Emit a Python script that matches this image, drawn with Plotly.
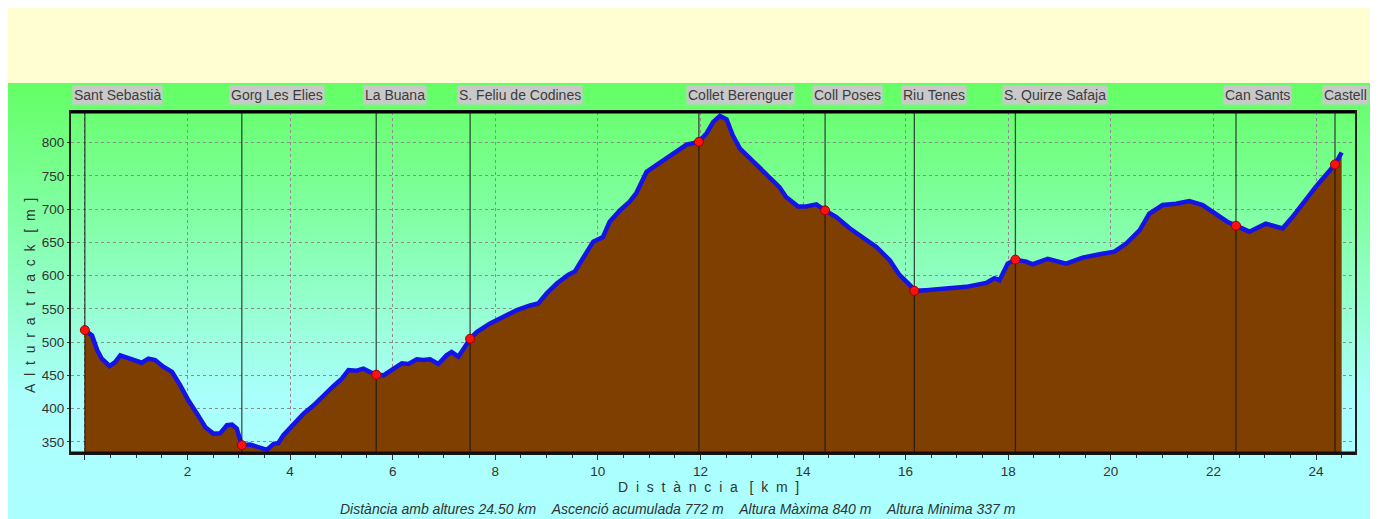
import base64, struct, zlib
import plotly.graph_objects as go

# ---------------- data ----------------
dist_km = [0.00, 0.14, 0.24, 0.33, 0.48, 0.59, 0.69, 0.82, 0.98, 1.11, 1.24, 1.37, 1.53, 1.70, 1.86,
           2.02, 2.19, 2.35, 2.51, 2.64, 2.77, 2.87, 2.96, 3.03, 3.06, 3.22, 3.38, 3.55, 3.68, 3.77,
           3.87, 4.07, 4.26, 4.46, 4.65, 4.85, 5.01, 5.14, 5.30, 5.43, 5.56, 5.68, 5.82, 5.98, 6.18,
           6.31, 6.47, 6.60, 6.73, 6.89, 7.05, 7.15, 7.28, 7.41, 7.51, 7.64, 7.90, 8.16, 8.42, 8.68,
           8.84, 9.00, 9.20, 9.42, 9.55, 9.71, 9.91, 10.10, 10.23, 10.43, 10.62, 10.75, 10.95, 11.14,
           11.34, 11.53, 11.73, 11.97, 12.12, 12.25, 12.38, 12.51, 12.63, 12.77, 13.02, 13.30, 13.54,
           13.67, 13.90, 14.06, 14.26, 14.43, 14.65, 14.91, 15.17, 15.43, 15.69, 15.88, 16.08, 16.19,
           16.40, 16.79, 17.18, 17.57, 17.73, 17.83, 17.99, 18.14, 18.35, 18.48, 18.77, 19.13, 19.45,
           19.78, 20.07, 20.30, 20.56, 20.75, 21.01, 21.27, 21.53, 21.79, 22.05, 22.27, 22.44, 22.70,
           23.02, 23.35, 23.54, 23.73, 23.99, 24.20, 24.37, 24.50]
alt_m = [518, 510, 488, 475, 464, 470, 480, 477, 473, 469, 475, 473, 463, 455, 435,
         412, 392, 372, 362, 363, 375, 376, 370, 355, 345, 346, 342, 338, 347, 348,
         360, 377, 392, 405, 420, 434, 445, 458, 457, 460, 455, 451, 450, 458, 468,
         467, 474, 473, 474, 467, 480, 485, 478, 493, 505, 515, 528, 538, 548, 555,
         558, 573, 588, 601, 606, 626, 651, 658, 681, 698, 711, 724, 756, 766,
         776, 786, 797, 801, 814, 831, 840, 835, 811, 791, 772, 749, 733,
         718, 704, 704, 707, 698, 688, 671, 658, 643, 623, 601, 586, 577,
         578, 581, 583, 589, 596, 593, 618, 624, 621, 617, 625, 618, 627,
         632, 636, 648, 668, 693, 706, 708, 712, 706, 693, 681, 675, 666,
         678, 671, 688, 708, 733, 752, 767, 785]

wp_names = ["Sant Sebastià", "Gorg Les Elies", "La Buana", "S. Feliu de Codines", "Collet Berenguer",
            "Coll Poses", "Riu Tenes", "S. Quirze Safaja", "Can Sants", "Castell"]
wp_km = [0.00, 3.06, 5.68, 7.51, 11.97, 14.43, 16.17, 18.14, 22.44, 24.37]
wp_alt = [518, 345, 451, 505, 801, 698, 577, 624, 675, 767]

x_ticks = [0, 2, 4, 6, 8, 10, 12, 14, 16, 18, 20, 22, 24]
x_tick_text = [""] + [str(v) for v in x_ticks[1:]]
y_ticks = [350, 400, 450, 500, 550, 600, 650, 700, 750, 800]

footer_parts = ["Distància amb altures 24.50 km", "Ascenció acumulada 772 m",
                "Altura Màxima 840 m", "Altura Minima 337 m"]

# ---------------- geometry / style ----------------
OFF = 8                                   # page body margin of the html page
W, H = 1381 - OFF, 519 - OFF
PL, PR, PT, PB = 71, 1355, 112, 453       # plot area, in page pixels
X_RANGE = [-0.27, 24.76]
Y_RANGE = [333.2, 845.9]
FONT = "Liberation Sans, Arial, sans-serif"
NB = "\u00a0"


def px_x(X):
    return (X - PL) / (PR - PL)


def px_y(Y):
    return (PB - Y) / (PB - PT)


def spaced(s):
    words = s.split(" ")
    return (NB * 3).join((NB * 2).join(list(w)) for w in words)


def gradient_png(stops, height):
    rows = []
    for i in range(height):
        t = i / (height - 1)
        for (t0, c0), (t1, c1) in zip(stops[:-1], stops[1:]):
            if t0 <= t <= t1:
                f = 0 if t1 == t0 else (t - t0) / (t1 - t0)
                c = [round(a + (b - a) * f) for a, b in zip(c0, c1)]
                break
        rows.append(b"\x00" + bytes(c))
    raw = b"".join(rows)

    def chunk(tag, data):
        return struct.pack(">I", len(data)) + tag + data + struct.pack(">I", zlib.crc32(tag + data) & 0xffffffff)

    png = b"\x89PNG\r\n\x1a\n" + chunk(b"IHDR", struct.pack(">IIBBBBB", 1, height, 8, 2, 0, 0, 0)) \
        + chunk(b"IDAT", zlib.compress(raw)) + chunk(b"IEND", b"")
    return "data:image/png;base64," + base64.b64encode(png).decode()


BG_TOP, BG_BOT = 83, 519
grad_src = gradient_png([(0.0, (100, 255, 100)), (0.72, (170, 255, 252)), (1.0, (172, 255, 255))],
                        BG_BOT - BG_TOP)

fig = go.Figure()

# profile
fig.add_trace(go.Scatter(x=dist_km, y=alt_m, mode="lines", fill="tozeroy",
                         fillcolor="#7F3F00", line=dict(color="#1414E6", width=4.5),
                         hoverinfo="skip", showlegend=False))

# waypoint vertical lines
vx, vy = [], []
for k in wp_km:
    vx += [k, k, None]
    vy += [Y_RANGE[0], Y_RANGE[1], None]
fig.add_trace(go.Scatter(x=vx, y=vy, mode="lines", line=dict(color="rgba(20,20,20,0.75)", width=1.3),
                         hoverinfo="skip", showlegend=False))

# red dots on the profile
fig.add_trace(go.Scatter(x=wp_km, y=wp_alt, mode="markers",
                         marker=dict(color="#FF1010", size=9, line=dict(color="#9A0000", width=1)),
                         showlegend=False))

# red triangles above frame
tri_y = Y_RANGE[1] + (PT - 107) * (Y_RANGE[1] - Y_RANGE[0]) / (PB - PT)
fig.add_trace(go.Scatter(x=wp_km, y=[tri_y] * len(wp_km), mode="markers", cliponaxis=False,
                         marker=dict(symbol="triangle-down", color="#E00000", size=12,
                                     line=dict(color="#6A0000", width=1)),
                         showlegend=False))

annotations = []
for name, k in zip(wp_names, wp_km):
    annotations.append(dict(x=k, xref="x", y=px_y(95), yref="paper", text=name, showarrow=False,
                            xanchor="left", yanchor="middle", xshift=-13, bgcolor="#C9C9C9",
                            borderpad=1, font=dict(family=FONT, size=14, color="#3C3C3C")))

annotations.append(dict(x=px_x(30), y=px_y(296), xref="paper", yref="paper",
                        text=spaced("Altura track [m]"), textangle=-90, showarrow=False,
                        xanchor="center", yanchor="middle",
                        font=dict(family=FONT, size=14, color="#333333")))
annotations.append(dict(x=px_x(708), y=px_y(487), xref="paper", yref="paper",
                        text=spaced("Distància [km]"), showarrow=False,
                        xanchor="center", yanchor="middle",
                        font=dict(family=FONT, size=14, color="#333333")))
footer_text = (NB * 4).join(p.replace(" ", NB) for p in footer_parts)
annotations.append(dict(x=px_x(678), y=px_y(509), xref="paper", yref="paper",
                        text="<i>" + footer_text + "</i>", showarrow=False,
                        xanchor="center", yanchor="middle",
                        font=dict(family=FONT, size=14, color="#333333")))

shapes = [
    dict(type="rect", xref="paper", yref="paper", x0=px_x(6), x1=px_x(1370), y0=px_y(83), y1=px_y(3),
         fillcolor="#FFFED2", line=dict(width=0), layer="below"),
    dict(type="line", xref="paper", yref="paper", x0=0, x1=1, y0=1, y1=1,
         line=dict(color="black", width=3)),
    dict(type="line", xref="paper", yref="paper", x0=0, x1=1, y0=0, y1=0,
         line=dict(color="#101010", width=3)),
]

fig.update_layout(
    width=W, height=H, autosize=False,
    margin=dict(l=PL - OFF, r=(W + OFF) - PR, t=PT - OFF, b=(H + OFF) - PB, pad=0),
    paper_bgcolor="white", plot_bgcolor="rgba(0,0,0,0)",
    showlegend=False,
    font=dict(family=FONT, size=13, color="#333333"),
    images=[dict(source=grad_src, xref="paper", yref="paper", x=px_x(6), y=px_y(BG_TOP),
                 sizex=(1370 - 6) / (PR - PL), sizey=(BG_BOT - BG_TOP) / (PB - PT),
                 xanchor="left", yanchor="top", sizing="stretch", layer="below")],
    shapes=shapes,
    annotations=annotations,
)

fig.update_xaxes(range=X_RANGE, tickvals=x_ticks, ticktext=x_tick_text,
                 showgrid=True, gridcolor="#8C8C8C", griddash="3px,3px", gridwidth=1,
                 zeroline=False, showline=True, linecolor="#202020", linewidth=2, mirror=True,
                 ticks="outside", ticklen=5, tickcolor="#333333",
                 minor=dict(dtick=0.5, tick0=0, ticks="outside", ticklen=3, tickcolor="#333333", showgrid=False),
                 tickfont=dict(family=FONT, size=13.5, color="#333333"))
fig.update_yaxes(range=Y_RANGE, tickvals=y_ticks,
                 showgrid=True, gridcolor="#8C8C8C", griddash="3px,3px", gridwidth=1,
                 zeroline=False, showline=True, linecolor="#202020", linewidth=2, mirror=True,
                 ticks="outside", ticklen=2, tickcolor="#333333",
                 tickfont=dict(family=FONT, size=13.5, color="#333333"))

fig.write_html("out.html")
